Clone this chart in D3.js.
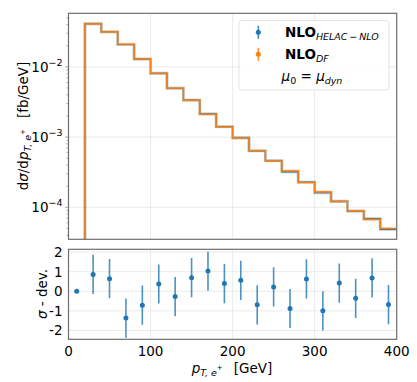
<!DOCTYPE html>
<html>
<head>
<meta charset="utf-8">
<script src="https://cdn.jsdelivr.net/npm/d3@7"></script>
<style>
  body { margin: 0; background: #fff; }
  text { font-family: "DejaVu Sans", sans-serif; fill: #000; }
</style>
</head>
<body>
<div id="chart"></div>
<script>
"use strict"

// bin edges in GeV (20 GeV bins)
const binEdges = [0, 20, 40, 60, 80, 100, 120, 140, 160, 180, 200, 220, 240, 260, 280, 300, 320, 340, 360, 380, 400];
// NLO_DF (orange), first bin is empty
const valuesDF = [0, 0.041, 0.0315, 0.021, 0.013, 0.0081, 0.00497, 0.00335, 0.00212, 0.0014, 0.00097,
                  0.000643, 0.000458, 0.000330, 0.000225, 0.000166, 0.0001205, 0.000089, 0.000067, 0.000050];
// NLO_HELAC-NLO (blue)
const valuesHelac = [0, 0.0412, 0.0316, 0.0208, 0.0129, 0.00812, 0.00496, 0.00337, 0.00214, 0.00141, 0.000978,
                     0.000635, 0.000461, 0.000320, 0.000229, 0.000161, 0.000122, 0.000088, 0.000069, 0.0000485];
// relative statistical uncertainty per bin
const relErr = [0, 0.005, 0.006, 0.007, 0.008, 0.009, 0.01, 0.011, 0.012, 0.013, 0.014,
                0.016, 0.018, 0.02, 0.022, 0.024, 0.026, 0.028, 0.03, 0.032];
// sigma deviation per bin
const deviation = [0.0, 0.86, 0.64, -1.37, -0.71, 0.37, -0.27, 0.69, 1.03, 0.39, 0.56,
                   -0.69, 0.22, -0.88, 0.63, -1.0, 0.42, -0.36, 0.68, -0.68];
const deviationErr = [0, 1, 1, 1, 1, 1, 1, 1, 1, 1, 1, 1, 1, 1, 1, 1, 1, 1, 1, 1];

const xTicks = [0, 100, 200, 300, 400];
const yTicksTop = [1e-4, 1e-3, 1e-2];
const yTicksBottom = [-2, -1, 0, 1, 2];

const blue = "#1f77b4", orange = "#ff7f0e";
const W = 417, H = 382;
const left = 68.5, right = 396.7;
const topPanel = {y0: 13.3, y1: 239.3};
const botPanel = {y0: 249.3, y1: 339.3};

let svg = d3.select("#chart").append("svg")
  .attr("width", W).attr("height", H);

let x = d3.scaleLinear().domain([0, 400]).range([left, right]);
let y = d3.scaleLog().domain([3.5e-5, 5.8e-2]).range([topPanel.y1, topPanel.y0]);
let yd = d3.scaleLinear().domain([-2.45, 2.14]).range([botPanel.y1, botPanel.y0]);

svg.append("clipPath").attr("id", "clipTop")
  .append("rect").attr("x", left).attr("y", topPanel.y0)
  .attr("width", right - left).attr("height", topPanel.y1 - topPanel.y0);
svg.append("clipPath").attr("id", "clipBot")
  .append("rect").attr("x", left).attr("y", botPanel.y0)
  .attr("width", right - left).attr("height", botPanel.y1 - botPanel.y0);

// grids
let grid = svg.append("g").attr("stroke", "#e6e6e6").attr("stroke-width", 0.8);
xTicks.slice(1, -1).forEach(t => {
  grid.append("line").attr("x1", x(t)).attr("x2", x(t)).attr("y1", topPanel.y0).attr("y2", topPanel.y1);
  grid.append("line").attr("x1", x(t)).attr("x2", x(t)).attr("y1", botPanel.y0).attr("y2", botPanel.y1);
});
yTicksTop.forEach(t => {
  grid.append("line").attr("x1", left).attr("x2", right).attr("y1", y(t)).attr("y2", y(t));
});
yTicksBottom.forEach(t => {
  grid.append("line").attr("x1", left).attr("x2", right).attr("y1", yd(t)).attr("y2", yd(t));
});

// step histograms
function stepPoints(vals) {
  let pts = [];
  let first = vals.findIndex(v => v > 0);
  pts.push([binEdges[first], y.domain()[0] * 0.5]);
  for (let i = first; i < vals.length; i++) pts.push([binEdges[i], vals[i]]);
  pts.push([binEdges[vals.length], vals[vals.length - 1]]);
  return pts;
}
let stepLine = d3.line()
  .x(d => x(d[0]))
  .y(d => y(d[1]))
  .curve(d3.curveStepAfter);

let hist = svg.append("g").attr("clip-path", "url(#clipTop)");
[[valuesHelac, blue], [valuesDF, orange]].forEach(([vals, col]) => {
  let pts = stepPoints(vals);
  hist.append("path").attr("d", stepLine(pts))
    .attr("fill", "none").attr("stroke", col).attr("stroke-width", 2.8).attr("stroke-opacity", 0.35);
  hist.append("path").attr("d", stepLine(pts))
    .attr("fill", "none").attr("stroke", col).attr("stroke-width", 1.1);
  vals.forEach((v, i) => {
    if (v <= 0) return;
    let cx = x((binEdges[i] + binEdges[i + 1]) / 2);
    hist.append("line").attr("x1", cx).attr("x2", cx)
      .attr("y1", y(v * (1 - relErr[i]))).attr("y2", y(v * (1 + relErr[i])))
      .attr("stroke", col).attr("stroke-width", 1).attr("stroke-opacity", 0.8);
  });
});

// deviation panel
let dev = svg.append("g").attr("clip-path", "url(#clipBot)");
deviation.forEach((d, i) => {
  let cx = x((binEdges[i] + binEdges[i + 1]) / 2);
  if (deviationErr[i] > 0) {
    dev.append("line").attr("x1", cx).attr("x2", cx)
      .attr("y1", yd(d - deviationErr[i])).attr("y2", yd(d + deviationErr[i]))
      .attr("stroke", blue).attr("stroke-width", 1.6).attr("stroke-opacity", 0.8);
  }
  dev.append("circle").attr("cx", cx).attr("cy", yd(d)).attr("r", 2.5).attr("fill", blue);
});

// frames
[topPanel, botPanel].forEach(p => {
  svg.append("rect").attr("x", left).attr("y", p.y0)
    .attr("width", right - left).attr("height", p.y1 - p.y0)
    .attr("fill", "none").attr("stroke", "#6e6e6e").attr("stroke-width", 1.2);
});

// log minor ticks
let minor = svg.append("g").attr("stroke", "#6e6e6e").attr("stroke-width", 0.6);
y.ticks().forEach(t => {
  if (t < y.domain()[0] || t > y.domain()[1]) return;
  let major = yTicksTop.some(m => Math.abs(m - t) / m < 1e-6);
  minor.append("line").attr("x1", left).attr("x2", left - (major ? 3.5 : 2))
    .attr("y1", y(t)).attr("y2", y(t));
});

// tick labels
const fs = 13.5;
let labels = svg.append("g").attr("font-size", fs);
yTicksTop.forEach(t => {
  let e = Math.round(Math.log10(t));
  let tx = labels.append("text").attr("x", left - 6).attr("y", y(t) + 5).attr("text-anchor", "end");
  tx.append("tspan").text("10");
  tx.append("tspan").attr("dy", -6).attr("font-size", 9.5).text("\u2212" + Math.abs(e));
});
yTicksBottom.forEach(t => {
  labels.append("text").attr("x", left - 6).attr("y", yd(t) + 5).attr("text-anchor", "end")
    .text(t < 0 ? "-" + Math.abs(t) : t);
});
xTicks.forEach(t => {
  labels.append("text").attr("x", x(t)).attr("y", 355.5).attr("text-anchor", "middle").text(t);
});

// axis titles
let yl = svg.append("text").attr("font-size", 13.5).attr("text-anchor", "middle")
  .attr("transform", "translate(28,126) rotate(-90)");
yl.append("tspan").text("d");
yl.append("tspan").attr("font-style", "italic").text("σ");
yl.append("tspan").text("/d");
yl.append("tspan").attr("font-style", "italic").text("p");
yl.append("tspan").attr("font-style", "italic").attr("font-size", 9.5).attr("dy", 3).text("T, e");
yl.append("tspan").attr("font-size", 7).attr("dy", -6).text("+");
yl.append("tspan").attr("dy", 3).text("\u2002 [fb/GeV]");

let yl2 = svg.append("text").attr("font-size", 13.5).attr("text-anchor", "middle")
  .attr("transform", "translate(47,294) rotate(-90)");
yl2.append("tspan").attr("font-style", "italic").text("σ");
yl2.append("tspan").text(" - dev.");

let xl = svg.append("text").attr("font-size", 13.5).attr("text-anchor", "middle")
  .attr("x", 232).attr("y", 373);
xl.append("tspan").attr("font-style", "italic").text("p");
xl.append("tspan").attr("font-style", "italic").attr("font-size", 9.5).attr("dy", 3).text("T, e");
xl.append("tspan").attr("font-size", 7).attr("dy", -6).text("+");
xl.append("tspan").attr("dy", 3).text("\u2002 [GeV]");

// legend
let lg = svg.append("g");
lg.append("rect").attr("x", 239).attr("y", 20.5).attr("width", 150).attr("height", 69.5)
  .attr("rx", 3).attr("fill", "#fff").attr("fill-opacity", 0.8)
  .attr("stroke", "#dcdcdc").attr("stroke-width", 0.8);
const legendItems = [
  {color: blue, name: "NLO", sub: "HELAC\u2009\u2212\u2009NLO", cy: 32.3},
  {color: orange, name: "NLO", sub: "DF", cy: 54.3}
];
legendItems.forEach(it => {
  lg.append("line").attr("x1", 258.3).attr("x2", 258.3).attr("y1", it.cy - 6.5).attr("y2", it.cy + 6.5)
    .attr("stroke", it.color).attr("stroke-width", 1.6).attr("stroke-opacity", 0.85);
  lg.append("circle").attr("cx", 258.3).attr("cy", it.cy).attr("r", 2.5).attr("fill", it.color);
  let t = lg.append("text").attr("x", 285).attr("y", it.cy + 5).attr("font-size", 13.5);
  t.append("tspan").attr("font-weight", "bold").text(it.name);
  t.append("tspan").attr("font-style", "italic").attr("font-size", 9.5).attr("dy", 3).text(it.sub);
});
let mu = lg.append("text").attr("x", 312).attr("y", 81).attr("font-size", 13.5).attr("text-anchor", "middle");
mu.append("tspan").attr("font-style", "italic").text("μ");
mu.append("tspan").attr("font-size", 9.5).attr("dy", 3).text("0");
mu.append("tspan").attr("dy", -3).text(" = ");
mu.append("tspan").attr("font-style", "italic").text("μ");
mu.append("tspan").attr("font-style", "italic").attr("font-size", 9.5).attr("dy", 3).text("dyn");
</script>
</body>
</html>
